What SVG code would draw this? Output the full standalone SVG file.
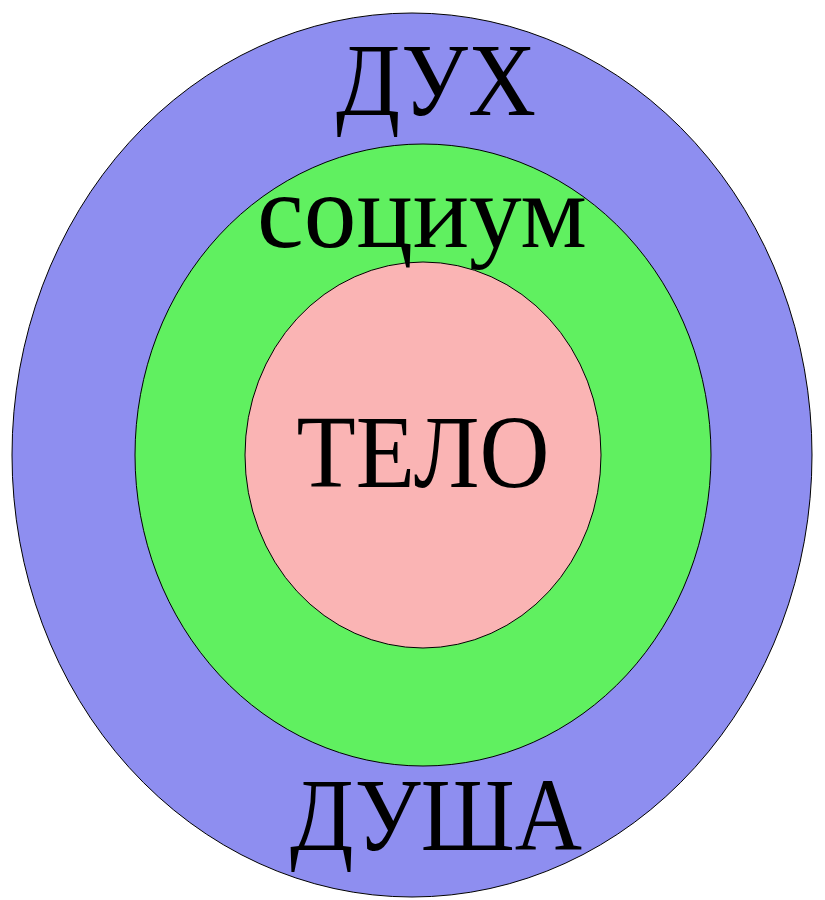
<svg xmlns="http://www.w3.org/2000/svg" width="825" height="900" viewBox="0 0 825 900">
<style>
.ring{stroke:#000;stroke-width:1}
.lbl{font-family:"Liberation Serif","Times New Roman",serif;font-size:103px;fill:#000;text-anchor:middle}
</style>
<rect width="825" height="900" fill="#fff"/>
<g id="spirit"><ellipse class="ring" cx="412" cy="455" rx="400" ry="442" fill="#8E8EF0"/></g>
<g id="society"><ellipse class="ring" cx="423" cy="455" rx="288" ry="311" fill="#60F060"/></g>
<g id="body"><ellipse class="ring" cx="423" cy="455" rx="178" ry="193" fill="#FAB4B4"/></g>
<g id="labels">
<text class="lbl" x="436" y="115" textLength="200" lengthAdjust="spacingAndGlyphs">ДУХ</text>
<text class="lbl" x="422" y="247" textLength="330" lengthAdjust="spacingAndGlyphs" style="font-size:105px">социум</text>
<text class="lbl" x="423" y="487" textLength="253" lengthAdjust="spacingAndGlyphs">ТЕЛО</text>
<text class="lbl" x="436" y="850" textLength="292" lengthAdjust="spacingAndGlyphs">ДУША</text>
</g>
<g id="connectors"/>
</svg>
